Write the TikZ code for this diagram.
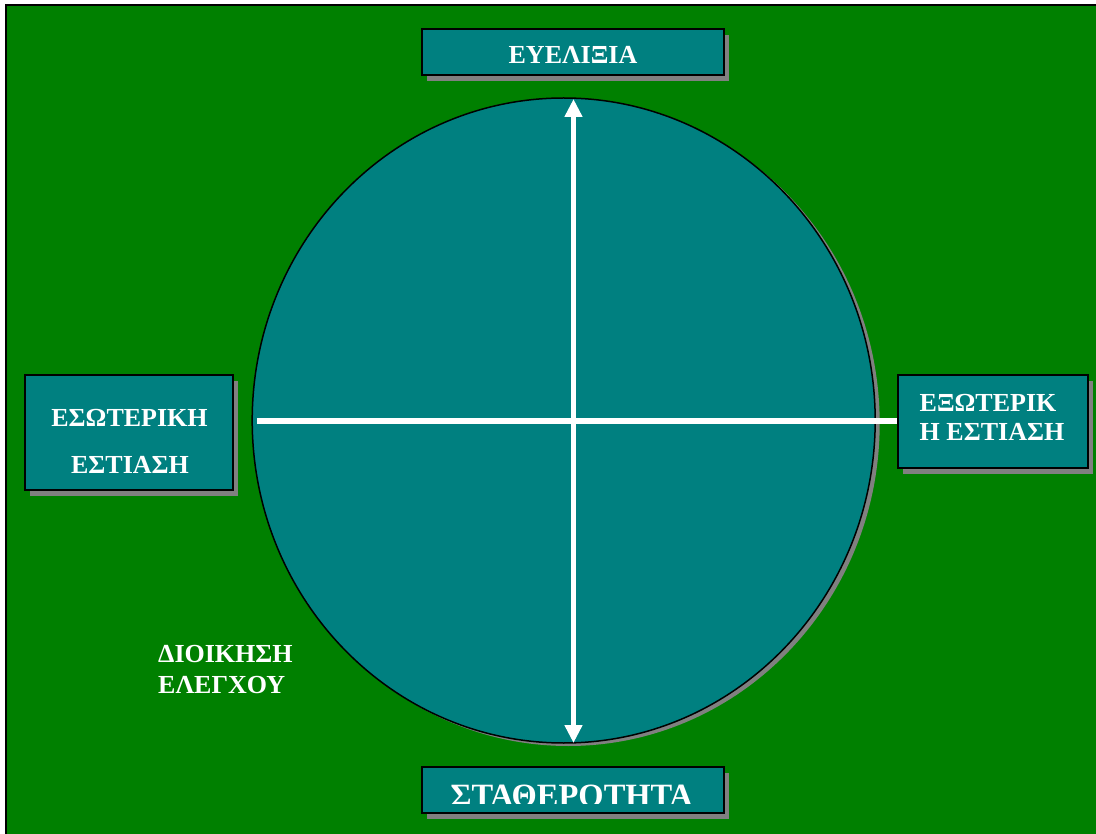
\documentclass[tikz,border=0pt]{standalone}
\usepackage{fontspec}
\setmainfont{Liberation Serif}
\usetikzlibrary{shadows,arrows.meta,shapes.geometric}
\definecolor{bggreen}{HTML}{008000}
\definecolor{tealfill}{HTML}{008080}
\definecolor{shadowgray}{HTML}{808080}
\begin{document}
\begin{tikzpicture}[x=1pt,y=-1pt,
  panel/.style={draw=black, line width=1.5pt, fill=tealfill, inner sep=0pt,
    drop shadow={shadow xshift=5pt, shadow yshift=-6pt, fill=shadowgray, opacity=1}},
  lbl/.style={text=white, font=\bfseries\fontsize{26}{30}\selectfont, inner sep=0pt, anchor=base},
  biglbl/.style={lbl, font=\bfseries\fontsize{32.5}{38}\selectfont},
  axis/.style={draw=white, line width=5.5pt},
  >={Triangle[width=17pt,length=18pt]}]
\useasboundingbox (0,0) rectangle (1096,834);
\clip (0,0) rectangle (1096,834);
\fill[white] (0,0) rectangle (1096,834);
% slide background: only its top and left edges fall inside the page
\fill[bggreen] (6,5) rectangle (1096,834);
\draw[line width=2pt] (1096,5) -- (6,5) -- (6,834);

% central disc
\node[ellipse, draw=black, line width=1.5pt, fill=tealfill, inner sep=0pt,
      minimum width=623pt, minimum height=645pt,
      drop shadow={shadow xshift=4.5pt, shadow yshift=-3pt, fill=shadowgray, opacity=1}]
  (disc) at (563.7,420.5) {};

% axes
\coordinate (ntip) at (573.5,99);
\coordinate (stip) at (573.5,743);
\coordinate (wend) at (257,421);
\coordinate (eend) at (898,421);
\draw[axis, <->] (stip) -- (ntip);
\draw[axis] (wend) -- (eend);

% boxes
\node[panel, minimum width=302pt, minimum height=46pt] (top) at (573,52) {};
\node[panel, minimum width=302pt, minimum height=46pt] (bottom) at (573,790) {};
\node[panel, minimum width=208pt, minimum height=115pt] (left) at (129,432.5) {};
\node[panel, minimum width=190pt, minimum height=93pt] (right) at (993,421.5) {};

% labels
\node[lbl] (tflex) at (573,64) {ΕΥΕΛΙΞΙΑ};
\node[lbl] (tin1) at (129.5,427) {ΕΣΩΤΕΡΙΚΗ};
\node[lbl] (tin2) at (130,473) {ΕΣΤΙΑΣΗ};
\node[lbl] (tout1) at (988,412) {ΕΞΩΤΕΡΙΚ};
\node[lbl] (tout2) at (992,441) {Η ΕΣΤΙΑΣΗ};
\node[lbl, anchor=base west] (tctl1) at (158,662) {ΔΙΟΙΚΗΣΗ};
\node[lbl, anchor=base west] (tctl2) at (158,693) {ΕΛΕΓΧΟΥ};
\begin{scope}
  \clip (422,767) rectangle (724,803);
  \node[biglbl] (tstab) at (571.5,806.5) {ΣΤΑΘΕΡΟΤΗΤΑ};
\end{scope}
\end{tikzpicture}
\end{document}
